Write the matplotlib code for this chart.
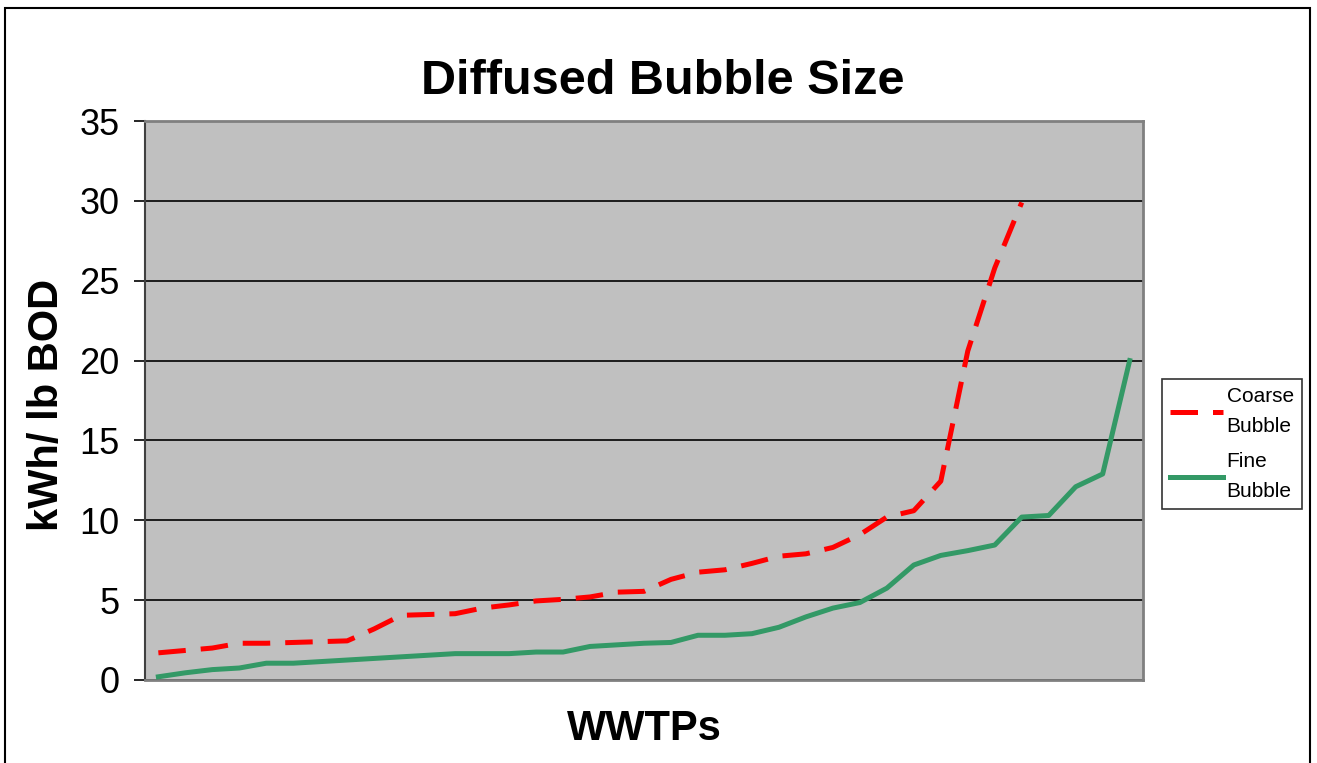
import matplotlib
matplotlib.use("Agg")
import matplotlib.pyplot as plt
from matplotlib.patches import Rectangle

# kWh per lb BOD, plants sorted from low to high
coarse_bubble = [1.7, 1.85, 2.0, 2.3, 2.3, 2.35, 2.4, 2.45, 3.2, 4.05, 4.1,
                 4.15, 4.5, 4.7, 4.95, 5.05, 5.2, 5.5, 5.55, 6.3, 6.75, 6.9,
                 7.3, 7.75, 7.9, 8.3, 9.1, 10.2, 10.6, 12.45, 20.6, 25.8, 29.9]
fine_bubble = [0.2, 0.45, 0.65, 0.75, 1.05, 1.05, 1.15, 1.25, 1.35, 1.45, 1.55,
               1.65, 1.65, 1.65, 1.75, 1.75, 2.1, 2.2, 2.3, 2.35, 2.8, 2.8,
               2.9, 3.3, 3.95, 4.5, 4.85, 5.75, 7.2, 7.8, 8.1, 8.45, 10.2,
               10.3, 12.1, 12.9, 20.0]
y_ticks = [0, 5, 10, 15, 20, 25, 30, 35]

plt.rcParams["font.family"] = ["Liberation Sans", "DejaVu Sans"]

fig = plt.figure(figsize=(13.17, 7.63), dpi=100)
ax = fig.add_axes([0.110, 0.1088, 0.758, 0.7326])
ax.set_facecolor("#C0C0C0")

ax.plot(range(len(coarse_bubble)), coarse_bubble, color="#FF0000", lw=3.6,
        dashes=(5.5, 3), label="Coarse\nBubble", zorder=3)
ax.plot(range(len(fine_bubble)), fine_bubble, color="#339966", lw=3.6,
        label="Fine\nBubble", zorder=3)

ax.set_xlim(-0.5, len(fine_bubble) - 0.5)
ax.set_ylim(0, 35)
ax.set_yticks(y_ticks)
ax.set_xticks([])
ax.yaxis.grid(True, color="black", lw=1.2)
ax.set_axisbelow(True)
ax.tick_params(axis="y", length=8, width=1.2, pad=10, labelsize=26)

for side in ["top", "right", "bottom"]:
    ax.spines[side].set_color("#808080")
    ax.spines[side].set_linewidth(2)
ax.spines["left"].set_color("#404040")
ax.spines["left"].set_linewidth(1.5)

fig.text(0.503, 0.893, "Diffused Bubble Size", ha="center", va="center",
         fontsize=35, fontweight="bold")
ax.set_xlabel("WWTPs", fontsize=30, fontweight="bold", labelpad=21)
ax.set_ylabel("kWh/ lb BOD", fontsize=30, fontweight="bold")
ax.yaxis.set_label_coords(-0.078, 0.492)

leg = ax.legend(loc="center left", bbox_to_anchor=(1.019, 0.422), fontsize=15,
                frameon=True, fancybox=False, edgecolor="black",
                handlelength=2.5, handletextpad=0.2, labelspacing=0.8,
                borderpad=0.4, borderaxespad=0)
leg.get_frame().set_linewidth(1.2)
for t in leg.get_texts():
    t.set_linespacing(1.7)

# outer chart frame
fig.patches.append(Rectangle((0.004, -0.01), 0.991, 0.999,
                             transform=fig.transFigure, fill=False,
                             edgecolor="black", lw=1.5))

fig.savefig("out.png", dpi=100)
